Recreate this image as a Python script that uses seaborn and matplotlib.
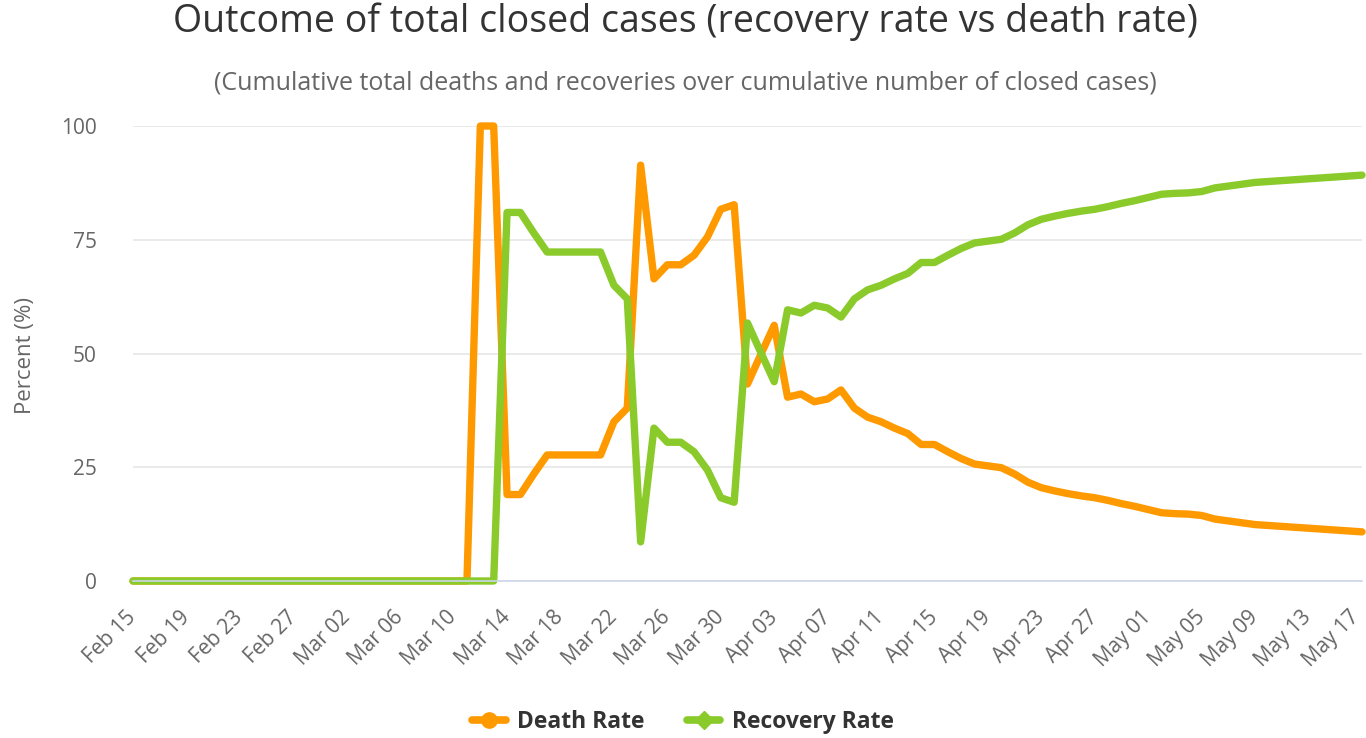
import numpy as np
import pandas as pd
import matplotlib
matplotlib.use("Agg")
import matplotlib.pyplot as plt
import matplotlib.transforms as mtransforms
import seaborn as sns
from matplotlib.lines import Line2D

# ---- data ----
dates = pd.date_range("2020-02-15", "2020-05-17", freq="D")
date_labels = [d.strftime("%b %d") for d in dates]

death_rate = [0] * 26 + [
    100, 100, 19, 19, 23.5, 27.7, 27.7, 27.7, 27.7, 27.7,
    35, 38, 91.4, 66.4, 69.5, 69.5, 71.6, 75.6, 81.7, 82.7,
    43.3, 49.8, 56.2, 40.4, 41.1, 39.4, 40, 42, 38, 36,
    35, 33.6, 32.4, 30, 30, 28.4, 26.9, 25.7, 25.3, 24.9,
    23.5, 21.7, 20.5, 19.8, 19.2, 18.7, 18.3, 17.7, 17, 16.4,
    15.7, 15, 14.8, 14.7, 14.4, 13.6, 13.2, 12.8, 12.4, 12.2,
    12, 11.8, 11.6, 11.4, 11.2, 11, 10.8,
]
recovery_rate = [0] * 28 + [
    81, 81, 76.5, 72.3, 72.3, 72.3, 72.3, 72.3,
    65, 62, 8.6, 33.6, 30.5, 30.5, 28.4, 24.4, 18.3, 17.3,
    56.7, 50.2, 43.8, 59.6, 58.9, 60.6, 60, 58, 62, 64,
    65, 66.4, 67.6, 70, 70, 71.6, 73.1, 74.3, 74.7, 75.1,
    76.5, 78.3, 79.5, 80.2, 80.8, 81.3, 81.7, 82.3, 83, 83.6,
    84.3, 85, 85.2, 85.3, 85.6, 86.4, 86.8, 87.2, 87.6, 87.8,
    88, 88.2, 88.4, 88.6, 88.8, 89, 89.2,
]
series_names = ["Death Rate", "Recovery Rate"]
series_colors = ["#FF9900", "#8ACA2B"]
y_ticks = [0, 25, 50, 75, 100]

df = pd.DataFrame({
    "idx": list(range(len(dates))) * 2,
    "value": death_rate + recovery_rate,
    "series": [series_names[0]] * len(dates) + [series_names[1]] * len(dates),
})

# ---- plot ----
sns.set_theme(style="white")
plt.rcParams["font.family"] = ["Open Sans", "DejaVu Sans"]

W, H = 1366, 738
fig = plt.figure(figsize=(W / 100, H / 100), dpi=100)
ax = fig.add_axes([133 / W, 1 - 581 / H, (1362 - 133) / W, (581 - 126) / H])

sns.lineplot(data=df, x="idx", y="value", hue="series",
             palette=dict(zip(series_names, series_colors)),
             linewidth=5.3, legend=False, ax=ax)
for ln in ax.lines:
    ln.set_solid_joinstyle("round")
    ln.set_solid_capstyle("round")
    ln.set_clip_on(False)

ax.set_xlim(0, len(dates) - 1)
ax.set_ylim(0, 100)
ax.set_yticks(y_ticks)
ax.set_yticklabels([str(v) for v in y_ticks], color="#666666", fontsize=15)
ax.yaxis.grid(True, color="#e6e6e6", linewidth=1.2)
ax.xaxis.grid(False)
ax.set_axisbelow(True)

xt = list(range(0, len(dates), 4))
ax.set_xticks(xt)
ax.set_xticklabels([date_labels[i] for i in xt], rotation=45, ha="right",
                   va="center", rotation_mode="anchor", color="#666666", fontsize=15)
ax.tick_params(axis="x", length=0, pad=24)
ax.tick_params(axis="y", length=0, pad=26)

# nudge the last label slightly left so it stays inside the canvas
last = ax.get_xticklabels()[-1]
last.set_transform(last.get_transform() +
                   mtransforms.ScaledTranslation(-6 / 100, 0, fig.dpi_scale_trans))

for s in ["top", "right", "left"]:
    ax.spines[s].set_visible(False)
ax.spines["bottom"].set_color("#ccd6eb")
ax.spines["bottom"].set_linewidth(1.2)

ax.set_xlabel("")
ax.set_ylabel("")
fig.text(25 / W, 1 - 356 / H, "Percent (%)", rotation=90, ha="center", va="center",
         color="#666666", fontsize=16)

fig.text(685 / W, 1 - 32 / H, "Outcome of total closed cases (recovery rate vs death rate)",
         ha="center", va="baseline", fontsize=27, color="#333333")
fig.text(685 / W, 1 - 89 / H,
         "(Cumulative total deaths and recoveries over cumulative number of closed cases)",
         ha="center", va="baseline", fontsize=18, color="#666666")

handles = [
    Line2D([], [], color=series_colors[0], linewidth=5.5, marker="o", markersize=11),
    Line2D([], [], color=series_colors[1], linewidth=5.5, marker="D", markersize=9),
]
leg = fig.legend(handles, series_names, loc="center", bbox_to_anchor=(683 / W, 1 - 722 / H),
                 ncol=2, frameon=False, handlelength=1.45, columnspacing=1.85,
                 handletextpad=0.5,
                 prop={"weight": "bold", "size": 16.5})
for t in leg.get_texts():
    t.set_color("#333333")

fig.savefig("out.png", dpi=100)
